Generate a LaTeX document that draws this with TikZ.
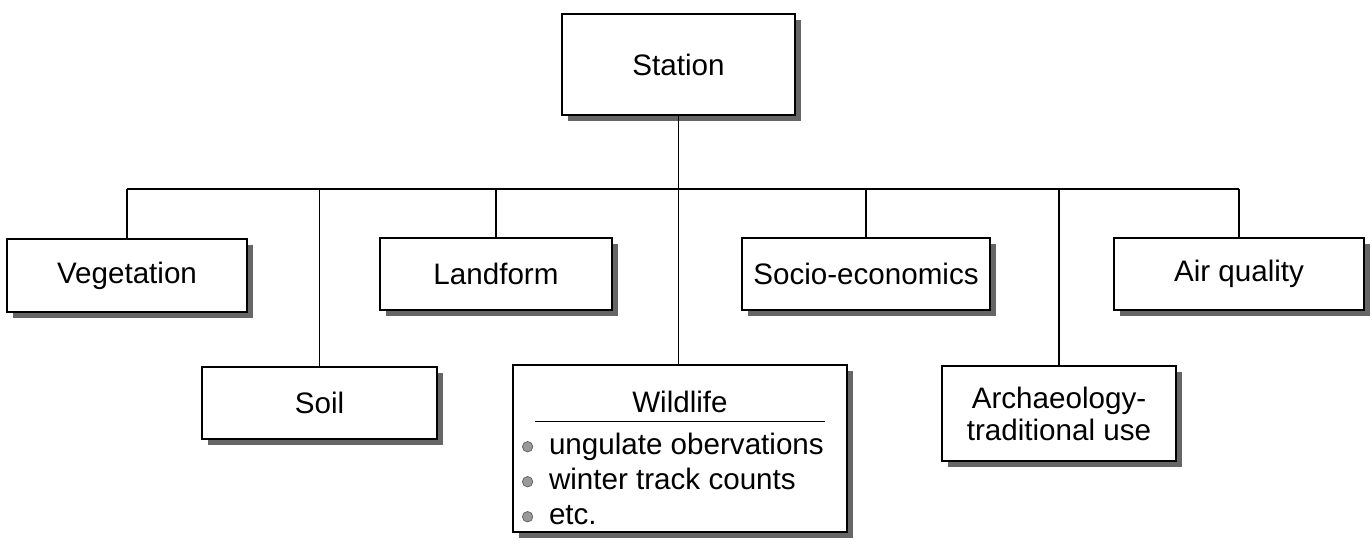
\documentclass[tikz,border=0pt]{standalone}
\usepackage{fontspec}
\setmainfont{Liberation Sans}
\usetikzlibrary{shadows}
\tikzstyle{box} = [rectangle, draw=black, fill=white, line width=0.6pt, align=center, font=\fontsize{14.8}{16}\selectfont, drop shadow={shadow xshift=3pt, shadow yshift=-3pt, fill=black!60, opacity=1}]
\tikzstyle{link} = [line width=0.6pt]
\newcommand{\wbullet}{\makebox[13pt][l]{\hspace*{-0.5pt}\tikz[baseline=-4pt]\draw[black!60, fill=black!40, line width=0.4pt] (0,0) circle (2.6pt);}}

\begin{document}
\begin{tikzpicture}[x=0.5pt, y=0.5pt]
        \useasboundingbox (0,0) rectangle (1372,549);

        % Top
        \node (station) [box, minimum width=116.5pt, minimum height=50.5pt] at (678.5,484.5) {Station};
        \coordinate (bus) at (0,360);

        % First row
        \node (veg) [box, minimum width=120pt, minimum height=36.5pt] at (127,273.5) {Vegetation};
        \node (land) [box, minimum width=116pt, minimum height=36pt] at (496,275) {Landform};
        \node (socio) [box, minimum width=124pt, minimum height=36pt] at (866,275) {Socio-economics};
        \node (air) [box, minimum width=125pt, minimum height=36pt] at (1239,275) {Air quality};

        % Second row
        \node (soil) [box, minimum width=117.5pt, minimum height=36pt] at (319.5,146) {Soil};
        \node (wild) [box, minimum width=167pt, minimum height=83.5pt] at (680,100.5) {%
            \begin{minipage}[c][76pt][t]{157pt}
            \fontsize{14.8}{17.5}\selectfont
            \vspace*{9.5pt}
            \centering Wildlife\par\nointerlineskip
            \vspace{4pt}\rule{145pt}{0.5pt}\par
            \vspace{-1.25pt}
            \raggedright
            \wbullet ungulate obervations\\
            \wbullet winter track counts\\
            \wbullet etc.
            \end{minipage}};
        \node (arch) [box, minimum width=117pt, minimum height=47.5pt] at (1059,135.5) {Archaeology-\\traditional use};

        % Lines
        \draw [link] (station) -- (station |- wild.north);
        \draw [link] (veg.north |- bus) -- (air.north |- bus);
        \draw [link] (veg) -- (veg |- bus);
        \draw [link] (soil) -- (soil |- bus);
        \draw [link] (land) -- (land |- bus);
        \draw [link] (socio) -- (socio |- bus);
        \draw [link] (arch) -- (arch |- bus);
        \draw [link] (air) -- (air |- bus);

    \end{tikzpicture}
\end{document}
